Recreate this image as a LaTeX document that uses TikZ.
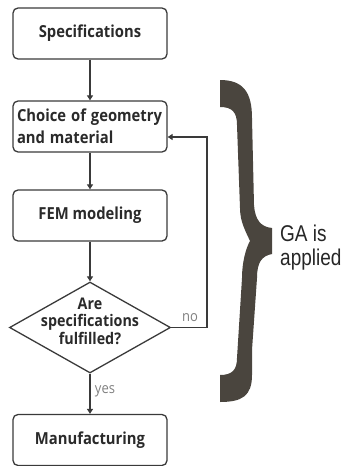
\documentclass[tikz,border=0pt]{standalone}
\usepackage{fontspec}
\usepackage{graphicx}
\setmainfont{Open Sans}
\newfontfamily\arialfont{Liberation Sans}
\usetikzlibrary{arrows.meta,shapes.geometric}
\definecolor{linec}{HTML}{3A3A3A}
\definecolor{bracec}{HTML}{4A453E}
\definecolor{txtc}{HTML}{2A2A2A}
\newcommand\tallt[1]{\scalebox{1}[1.12]{#1}}
\newcommand\tallga[1]{\scalebox{1}[1.2]{#1}}
\begin{document}
\begin{tikzpicture}[x=1pt,y=-1pt,
  procbox/.style={draw=linec,line width=1.3pt,rounded corners=5pt,minimum width=154pt,minimum height=51pt,inner sep=0pt,
    font=\fontsize{14.8}{22}\selectfont\bfseries,text=txtc,align=center},
  decbox/.style={draw=linec,line width=1.3pt,diamond,minimum width=161pt,minimum height=91pt,inner sep=0pt},
  arr/.style={draw=linec,line width=1.3pt,-{Triangle[length=5pt,width=6pt]}},
  smalllab/.style={font=\fontsize{13}{15}\selectfont,text=black!50}]
\useasboundingbox (0,0) rectangle (345,466);
\node[procbox] (spec) at (90,33.5) {\tallt{Specifications}};
\node[procbox,align=left,text width=146pt] (choice) at (90,126.5) {\tallt{Choice of geometry}\\\tallt{and material}};
\node[procbox] (fem) at (90,215.5) {\tallt{FEM modeling}};
\node[decbox] (dec) at (90,327.5) {};
\node[font=\fontsize{14.3}{17.5}\selectfont\bfseries,text=txtc,align=center] (dectext) at (90,321) {\tallt{Are}\\\tallt{specifications}\\\tallt{fulfilled?}};
\node[procbox] (manu) at (90,440) {\tallt{Manufacturing}};
\coordinate (fb) at (207,137);
\draw[arr] (spec) -- (choice);
\draw[arr] (choice) -- (fem);
\draw[arr] (fem) -- (dec);
\draw[arr] (dec) -- (manu);
\draw[arr] (dec.east) -| (fb) -- (choice.east |- fb);
\node[smalllab] (no) at (190,318) {\tallt{no}};
\node[smalllab] (yes) at (105,391) {\tallt{yes}};
\fill[bracec] (220,80)
  .. controls (243,80) and (252,92) .. (252,118)
  -- (254,205)
  .. controls (255,220) and (261,227) .. (272,228)
  -- (272,254)
  .. controls (262,256) and (257,262) .. (257,278)
  -- (252,350)
  -- (252,375)
  .. controls (252,396) and (242,402) .. (220,402)
  -- (220,375)
  .. controls (232,375) and (237,370) .. (237,358)
  -- (242,278)
  .. controls (242,262) and (246,248) .. (250,241)
  .. controls (246,232) and (240,222) .. (240,208)
  -- (237,125)
  .. controls (237,112) and (232,107) .. (220,107)
  -- cycle;
\node[font=\arialfont\fontsize{19}{24}\selectfont,text=black!85,align=left,anchor=west,inner sep=0pt] (ga) at (280,248) {\tallga{GA is}\\\tallga{applied}};
\end{tikzpicture}
\end{document}
